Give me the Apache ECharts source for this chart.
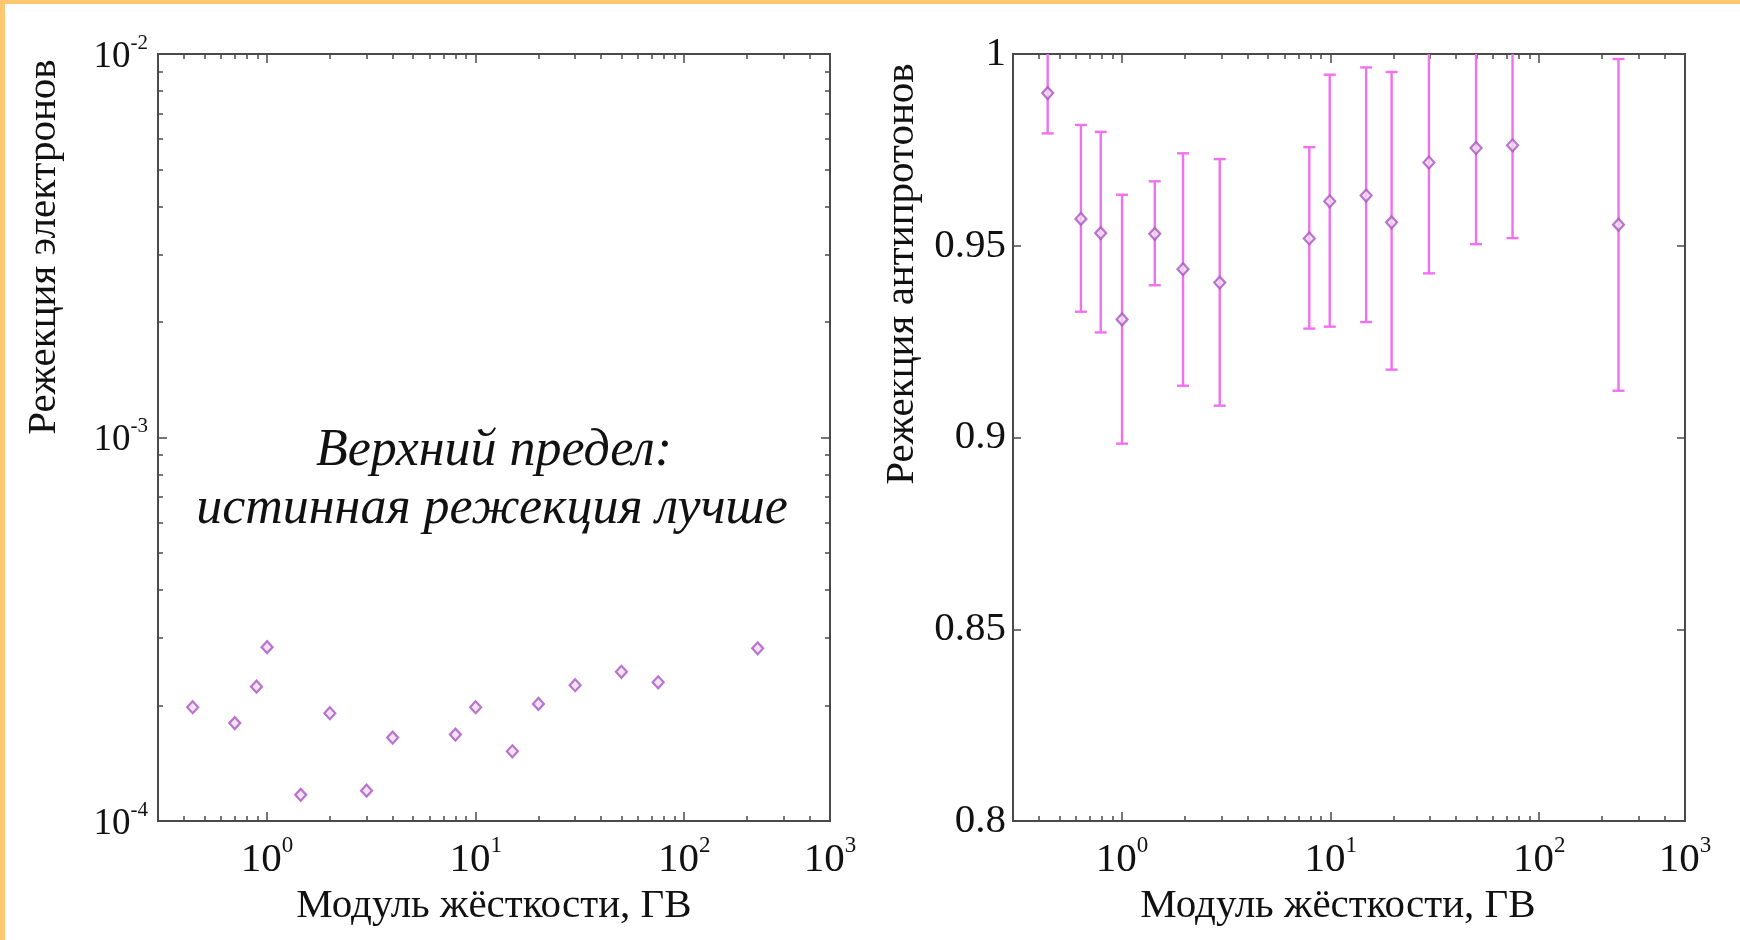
<!DOCTYPE html>
<html><head><meta charset="utf-8">
<script src="https://cdn.jsdelivr.net/npm/echarts@6/dist/echarts.min.js"></script>
<style>
html,body{margin:0;padding:0;background:#fff;}
#c{width:1740px;height:940px;position:absolute;left:0;top:0;}
#bTop{position:absolute;left:0;top:0;width:1740px;height:4px;background:#fdc671;}
#bLeft{position:absolute;left:0;top:0;width:5px;height:940px;background:#fdc671;}
</style></head><body>
<div id="c"></div><div id="bTop"></div><div id="bLeft"></div>
<script>
// ---------- data ----------
const eRigidity = [0.44, 0.7, 0.89, 1.0, 1.45, 2, 3, 4, 8, 10, 15, 20, 30, 50, 75, 225];
const eRejection = [1.98e-4, 1.80e-4, 2.24e-4, 2.84e-4, 1.17e-4, 1.91e-4, 1.20e-4, 1.65e-4, 1.68e-4, 1.98e-4, 1.52e-4, 2.02e-4, 2.26e-4, 2.45e-4, 2.30e-4, 2.82e-4];

const pRigidity = [0.44, 0.635, 0.79, 1.0, 1.435, 1.96, 2.94, 7.9, 9.9, 14.8, 19.6, 29.6, 49.8, 74.5, 240];
const pRejection = [0.9898, 0.957, 0.9533, 0.9308, 0.9531, 0.9439, 0.9404, 0.9519, 0.9616, 0.9631, 0.9561, 0.9717, 0.9755, 0.9762, 0.9555];
const pLow = [0.9793, 0.9328, 0.9274, 0.8984, 0.9397, 0.9135, 0.9083, 0.9284, 0.9289, 0.9301, 0.9177, 0.9428, 0.9504, 0.952, 0.9122];
const pHigh = [1.0, 0.9815, 0.9797, 0.9633, 0.9668, 0.9741, 0.9726, 0.9757, 0.9946, 0.9965, 0.9953, 1.0, 1.0, 1.0, 0.9987];

const xRange = [0.3, 500];
const xMajorTicks = [1, 10, 100];
const xMinorTicks = [0.4, 0.5, 0.6, 0.7, 0.8, 0.9, 2, 3, 4, 5, 6, 7, 8, 9, 20, 30, 40, 50, 60, 70, 80, 90, 200, 300, 400];
const xLabelValues = [1, 10, 100, 500];
const xLabelExponents = ['0', '1', '2', '3'];

const eYRange = [1e-4, 1e-2];
const eYLabelValues = [1e-4, 1e-3, 1e-2];
const eYLabelExponents = ['-4', '-3', '-2'];
const eYMinorTicks = [2e-4, 3e-4, 4e-4, 5e-4, 6e-4, 7e-4, 8e-4, 9e-4, 2e-3, 3e-3, 4e-3, 5e-3, 6e-3, 7e-3, 8e-3, 9e-3];

const pYRange = [0.8, 1];
const pYTickValues = [0.8, 0.85, 0.9, 0.95, 1];
const pYTickLabels = ['0.8', '0.85', '0.9', '0.95', '1'];

const xTitle = 'Модуль жёсткости, ГВ';
const eYTitle = 'Режекция электронов';
const pYTitle = 'Режекция антипротонов';
const noteLines = ['Верхний предел:', 'истинная режекция лучше'];

// ---------- styling ----------
const FONT = '"Liberation Serif", "Times New Roman", serif';
const AXIS_COLOR = '#4a4a4a';
const TEXT_COLOR = '#111111';
const BAR_COLOR = '#f070f0';
const MARK_COLOR = '#a955bf';

function matchIndex(vals, v) {
  let best = 0, bd = Infinity;
  vals.forEach((x, i) => { const d = Math.abs(Math.log(x) - Math.log(v)); if (d < bd) { bd = d; best = i; } });
  return best;
}
function powRich(base, sup) {
  return {
    b: { fontFamily: FONT, fontSize: base, color: TEXT_COLOR, lineHeight: base + 6, verticalAlign: 'bottom' },
    s: { fontFamily: FONT, fontSize: sup, color: TEXT_COLOR, lineHeight: sup + 2, verticalAlign: 'top' }
  };
}

function xAxisDef(grid, pos, ticks, len, withLabels) {
  const a = {
    type: 'log', logBase: 10, gridIndex: grid, position: pos,
    min: xRange[0], max: xRange[1],
    axisLine: { show: true, onZero: false, lineStyle: { color: AXIS_COLOR, width: 2 } },
    axisTick: { show: true, inside: true, length: len, customValues: ticks, lineStyle: { color: AXIS_COLOR, width: 1.5 } },
    splitLine: { show: false },
    axisLabel: { show: false }
  };
  if (withLabels) {
    a.axisLabel = {
      show: true, customValues: xLabelValues, margin: 13,
      formatter: v => '{b|10}{s|' + xLabelExponents[matchIndex(xLabelValues, v)] + '}',
      rich: powRich(41, 23)
    };
    a.name = xTitle;
    a.nameLocation = 'middle';
    a.nameGap = 62;
    a.nameTextStyle = { fontFamily: FONT, fontSize: 41, color: TEXT_COLOR };
  }
  return a;
}

function eYAxisDef(grid, pos, ticks, len, withLabels) {
  const a = {
    type: 'log', logBase: 10, gridIndex: grid, position: pos,
    min: eYRange[0], max: eYRange[1],
    axisLine: { show: true, onZero: false, lineStyle: { color: AXIS_COLOR, width: 2 } },
    axisTick: { show: true, inside: true, length: len, customValues: ticks, lineStyle: { color: AXIS_COLOR, width: 1.5 } },
    splitLine: { show: false },
    axisLabel: { show: false }
  };
  if (withLabels) {
    a.axisLabel = {
      show: true, customValues: eYLabelValues, margin: 10,
      formatter: v => '{b|10}{s|' + eYLabelExponents[matchIndex(eYLabelValues, v)] + '}',
      rich: powRich(37, 21)
    };
  }
  return a;
}

function pYAxisDef(grid, pos, withLabels) {
  const a = {
    type: 'value', gridIndex: grid, position: pos,
    min: pYRange[0], max: pYRange[1], interval: 0.05,
    axisLine: { show: true, onZero: false, lineStyle: { color: AXIS_COLOR, width: 2 } },
    axisTick: { show: true, inside: true, length: 8, customValues: pYTickValues.slice(1, -1), lineStyle: { color: AXIS_COLOR, width: 1.5 } },
    splitLine: { show: false },
    axisLabel: { show: false }
  };
  if (withLabels) {
    a.axisLabel = {
      show: true, customValues: pYTickValues, margin: 7,
      fontFamily: FONT, fontSize: 41, color: TEXT_COLOR,
      formatter: v => pYTickLabels[pYTickValues.findIndex(t => Math.abs(t - v) < 1e-6)]
    };
  }
  return a;
}

const xAxes = [
  xAxisDef(0, 'bottom', xMajorTicks, 9, true),
  xAxisDef(0, 'top', xMajorTicks, 9, false),
  xAxisDef(0, 'bottom', xMinorTicks, 5, false),
  xAxisDef(0, 'top', xMinorTicks, 5, false),
  xAxisDef(1, 'bottom', xMajorTicks, 9, true),
  xAxisDef(1, 'top', xMajorTicks, 9, false),
  xAxisDef(1, 'bottom', xMinorTicks, 5, false),
  xAxisDef(1, 'top', xMinorTicks, 5, false)
];
xAxes[4].nameTextStyle.padding = [0, 22, 0, 0];

const yAxes = [
  eYAxisDef(0, 'left', [eYLabelValues[1]], 9, true),
  eYAxisDef(0, 'right', [eYLabelValues[1]], 9, false),
  eYAxisDef(0, 'left', eYMinorTicks, 5, false),
  eYAxisDef(0, 'right', eYMinorTicks, 5, false),
  pYAxisDef(1, 'left', true),
  pYAxisDef(1, 'right', false)
];

const markerStyle = { color: '#f1dcf5', borderColor: MARK_COLOR, borderWidth: 2.2 };

const option = {
  animation: false,
  backgroundColor: '#ffffff',
  grid: [
    { left: 158, top: 54, width: 672, height: 767 },
    { left: 1013, top: 54, width: 672, height: 767 }
  ],
  xAxis: xAxes,
  yAxis: yAxes,
  series: [
    {
      type: 'scatter', xAxisIndex: 0, yAxisIndex: 0,
      symbol: 'diamond', symbolSize: [11, 12],
      itemStyle: markerStyle,
      data: eRigidity.map((x, i) => [x, eRejection[i]])
    },
    {
      type: 'custom', xAxisIndex: 4, yAxisIndex: 4, clip: true,
      encode: { x: 0, y: [1, 2] },
      data: pRigidity.map((x, i) => [x, pLow[i], pHigh[i]]),
      renderItem: function (params, api) {
        const x = api.value(0), lo = api.value(1), hi = api.value(2);
        const a = api.coord([x, lo]), b = api.coord([x, hi]);
        const cw = 6;
        const st = { stroke: BAR_COLOR, lineWidth: 2.4 };
        const ch = [
          { type: 'line', shape: { x1: a[0], y1: a[1], x2: b[0], y2: b[1] }, style: st },
          { type: 'line', shape: { x1: a[0] - cw, y1: a[1], x2: a[0] + cw, y2: a[1] }, style: st }
        ];
        if (hi < pYRange[1]) ch.push({ type: 'line', shape: { x1: b[0] - cw, y1: b[1], x2: b[0] + cw, y2: b[1] }, style: st });
        return { type: 'group', children: ch };
      }
    },
    {
      type: 'scatter', xAxisIndex: 4, yAxisIndex: 4,
      symbol: 'diamond', symbolSize: [11, 12],
      itemStyle: markerStyle,
      data: pRigidity.map((x, i) => [x, pRejection[i]])
    }
  ],
  graphic: [
    {
      type: 'text', x: 44, y: 247, rotation: Math.PI / 2,
      style: { text: eYTitle, fontFamily: FONT, fontSize: 41, fill: TEXT_COLOR, align: 'center', verticalAlign: 'middle' }
    },
    {
      type: 'text', x: 902, y: 274, rotation: Math.PI / 2,
      style: { text: pYTitle, fontFamily: FONT, fontSize: 41, fill: TEXT_COLOR, align: 'center', verticalAlign: 'middle' }
    },
    {
      type: 'text', x: 494, y: 451,
      style: { text: noteLines[0], fontFamily: FONT, fontStyle: 'italic', fontSize: 52, fill: '#111', align: 'center', verticalAlign: 'middle' }
    },
    {
      type: 'text', x: 492, y: 509,
      style: { text: noteLines[1], fontFamily: FONT, fontStyle: 'italic', fontSize: 52, fill: '#111', align: 'center', verticalAlign: 'middle' }
    }
  ]
};

const chart = echarts.init(document.getElementById('c'), null, { renderer: 'canvas' });
chart.setOption(option);
</script>
</body></html>
